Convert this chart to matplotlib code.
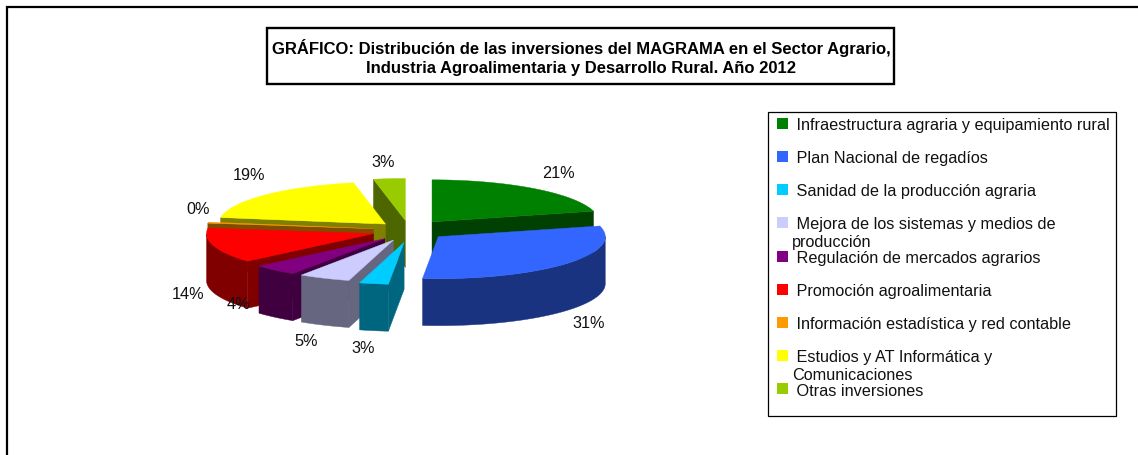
import numpy as np
import matplotlib
matplotlib.use('Agg')
import matplotlib.pyplot as plt
from matplotlib.colors import to_rgb
from matplotlib.patches import Polygon, Rectangle

plt.rcParams['font.family'] = ['Liberation Sans', 'DejaVu Sans']

# data
categories = [
    ' Infraestructura agraria y equipamiento rural',
    ' Plan Nacional de regadíos',
    ' Sanidad de la producción agraria',
    ' Mejora de los sistemas y medios de\nproducción',
    ' Regulación de mercados agrarios',
    ' Promoción agroalimentaria',
    ' Información estadística y red contable',
    ' Estudios y AT Informática y\nComunicaciones',
    ' Otras inversiones',
]
values = [20.9, 30.6, 2.8, 5.0, 4.3, 13.51, 0.39, 19.44, 3.06]
colors = ['#008000', '#3366FF', '#00CCFF', '#CCCCFF', '#800080',
          '#FF0000', '#FF9900', '#FFFF00', '#99CC00']
title = ('GRÁFICO: Distribución de las inversiones del MAGRAMA en el Sector Agrario,\n'
         'Industria Agroalimentaria y Desarrollo Rural. Año 2012')

# pie geometry in pixels
cx, cy = 407, 231
rx, ry = 167, 42
depth = 47
explode = [41, 41, 38, 35, 35, 36, 36, 34, 38]
nudge_x = [0, 0, 4, 1, 1, 1, 2, 3, 2]
nudge_y = [0, 0, 3, 2, 2, 1, 0, 0, 0]
draw_order = [0, 8, 7, 6, 5, 4, 3, 2, 1]  # back to front
label_xy = [(558, 174), (589, 324), (363, 349), (306, 342), (238, 305),
            (188, 295), (198, 210), (249, 176), (383, 163)]

fig = plt.figure(figsize=(11.38, 4.56), dpi=100)
ax = fig.add_axes([0, 0, 1, 1])
ax.set_xlim(0, 1138)
ax.set_ylim(456, 0)
ax.axis('off')

# outer frame runs off the right and bottom edges
ax.plot([7.5, 7.5, 1138], [456, 7.5, 7.5], color='black', lw=1.6, solid_joinstyle='miter')
ax.add_patch(Rectangle((267.5, 29), 627, 55.5, fc='white', ec='black', lw=1.7))
ax.text(581, 57.5, title, ha='center', va='center', fontsize=11.95, fontweight='bold', linespacing=1.36)


def rim(tx, ty, a1, a2):
    t = np.radians(np.linspace(a1, a2, max(int(a2 - a1) * 2, 2)))
    return tx + rx * np.sin(t), ty - ry * np.cos(t)


def face(xs, ys, col):
    ax.add_patch(Polygon(np.column_stack([xs, ys]), closed=True, fc=col, ec=col, lw=0.3))


edges = np.concatenate([[0], np.cumsum(values)]) / sum(values) * 360
for i in draw_order:
    a1, a2 = edges[i], edges[i + 1]
    mid = np.radians((a1 + a2) / 2)
    tx = cx + explode[i] * np.sin(mid) + nudge_x[i]
    ty = cy - explode[i] * np.cos(mid) * ry / rx + nudge_y[i]
    top = colors[i]
    side = tuple(c * 0.5 for c in to_rgb(top))
    xs, ys = rim(tx, ty, a1, a2)

    # cut faces, only the ones turned towards the viewer
    if np.sin(np.radians(a1)) < 0:
        face([tx, xs[0], xs[0], tx], [ty, ys[0], ys[0] + depth, ty + depth], side)
    if np.sin(np.radians(a2)) > 0:
        face([tx, xs[-1], xs[-1], tx], [ty, ys[-1], ys[-1] + depth, ty + depth], side)

    # outer wall on the front half
    lo, hi = max(a1, 90), min(a2, 270)
    if hi > lo:
        wx, wy = rim(tx, ty, lo, hi)
        face(np.concatenate([wx, wx[::-1]]), np.concatenate([wy, wy[::-1] + depth]), side)

    face(np.concatenate([[tx], xs]), np.concatenate([[ty], ys]), top)

for v, (x, y) in zip(values, label_xy):
    ax.text(x, y, f'{v / sum(values) * 100:.0f}%', ha='center', va='center', fontsize=11.7, color='#111111')

# legend
ax.add_patch(Rectangle((769, 113), 348, 305, fc='#888888', ec='none'))
ax.add_patch(Rectangle((768.5, 112.5), 347.5, 304.5, fc='white', ec='black', lw=0.9))
for i, (name, col) in enumerate(zip(categories, colors)):
    yc = 124 + 33.25 * i
    ax.add_patch(Rectangle((777, yc - 5.5), 11, 11, fc=col, ec='none'))
    ax.text(792, yc - 6.3, name, ha='left', va='top', fontsize=11.7, color='#111111', linespacing=1.25)

fig.savefig('out.png', dpi=100)
